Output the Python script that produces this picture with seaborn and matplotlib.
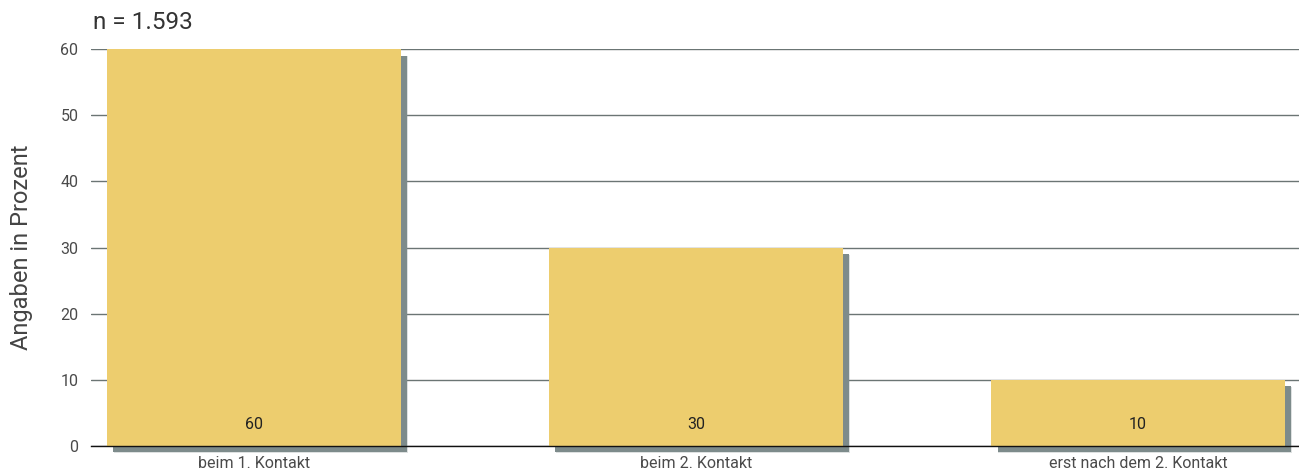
import matplotlib
matplotlib.use("Agg")
import matplotlib.pyplot as plt
import matplotlib.patheffects as pe
import seaborn as sns
import pandas as pd

categories = ["beim 1. Kontakt", "beim 2. Kontakt", "erst nach dem 2. Kontakt"]
values = [60, 30, 10]
yticks = [0, 10, 20, 30, 40, 50, 60]

sns.set_theme(style="white")
plt.rcParams['font.family'] = ['Roboto', 'Liberation Sans', 'DejaVu Sans']

fig = plt.figure(figsize=(12.99, 4.73), dpi=100)
ax = fig.add_axes([0.070, 0.057, 0.930, 0.839])

df = pd.DataFrame({"cat": categories, "val": values})
sns.barplot(data=df, x="cat", y="val", color="#EDCD6E", saturation=1, width=0.665,
            linewidth=0, edgecolor="none", ax=ax, zorder=3)

for p in ax.patches:
    p.set_clip_on(False)
    p.set_path_effects([pe.SimplePatchShadow(offset=(5, -5), shadow_rgbFace="#7d8b8b", alpha=0.25),
                        pe.SimplePatchShadow(offset=(4.6, -4.6), shadow_rgbFace="#7d8b8b", alpha=1.0),
                        pe.Normal()])

ax.set_xlim(-0.369, 2.364)
ax.set_ylim(0, 60)
ax.set_yticks(yticks)
ax.yaxis.grid(True, color="#6b7574", linewidth=1.0, zorder=0)
ax.set_axisbelow(True)
for s in ["top", "right", "left"]:
    ax.spines[s].set_visible(False)
ax.spines["bottom"].set_color("#111111")
ax.spines["bottom"].set_linewidth(1.0)
ax.spines["bottom"].set_zorder(4)
ax.tick_params(axis="both", length=0, labelsize=11.5, labelcolor="#4a4a4a")
ax.tick_params(axis="x", pad=7)
ax.tick_params(axis="y", pad=9)
ax.set_xlabel("")
ax.set_ylabel("Angaben in Prozent", fontsize=17, color="#444444", labelpad=20)

for i, v in enumerate(values):
    ax.text(i, 3.2, f"{v}", ha="center", va="center", fontsize=11.5, color="#222222",
            zorder=5)

fig.text(0.0716, 0.953, "n = 1.593", fontsize=17.5, color="#333333", ha="left", va="center")

fig.savefig("out.png", dpi=100)
